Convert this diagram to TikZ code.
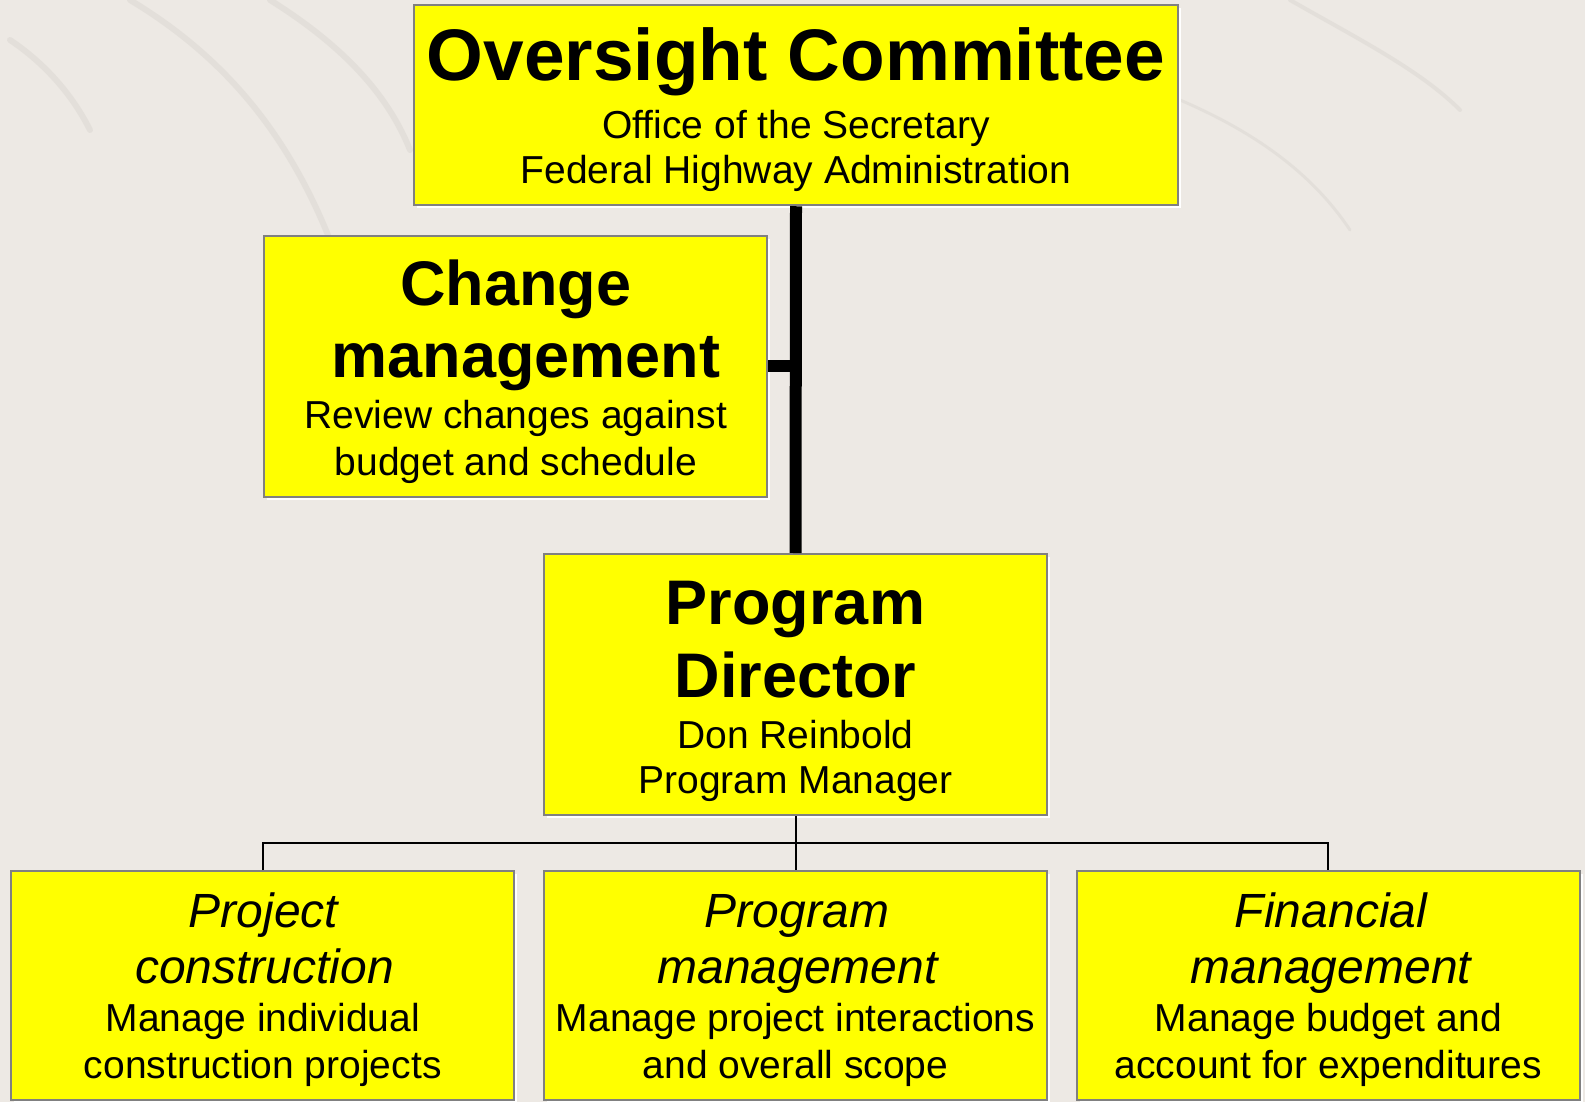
\documentclass[tikz,border=0pt]{standalone}
\usepackage{fontspec}
\setmainfont{Liberation Sans}
\usetikzlibrary{shadows}
\definecolor{bg}{HTML}{EDE9E4}
\definecolor{streak}{HTML}{D9D5CF}
\definecolor{boxgray}{HTML}{808080}
\definecolor{boxyellow}{HTML}{FFFF00}
\tikzset{
  box/.style={rectangle, draw=boxgray, line width=2pt, fill=boxyellow, inner sep=0pt,
    drop shadow={shadow xshift=3pt, shadow yshift=-3pt, fill=white, opacity=1}},
  bigtitle/.style={anchor=base, font=\fontsize{73}{80}\selectfont\bfseries},
  head/.style={anchor=base, font=\fontsize{63}{70}\selectfont\bfseries},
  ihead/.style={anchor=base, font=\fontsize{48}{54}\selectfont\itshape},
  sub/.style={anchor=base, font=\fontsize{39}{44}\selectfont},
  thickconn/.style={line width=12pt, black},
  thinconn/.style={line width=2pt, black},
  streakline/.style={draw=streak, line width=6pt, line cap=round, opacity=0.45}
}
\begin{document}
\begin{tikzpicture}[x=1pt, y=-1pt]
\fill[bg] (0,0) rectangle (1585,1102);
\useasboundingbox (0,0) rectangle (1585,1102);
% faint background streaks
\draw[streakline] (130,0) .. controls (230,60) and (290,140) .. (330,240);
\draw[streakline] (10,40) .. controls (40,60) and (70,90) .. (90,130);
\draw[streakline] (270,0) .. controls (350,50) and (390,100) .. (410,150);
\draw[streakline, line width=4pt] (1290,0) .. controls (1360,40) and (1420,70) .. (1460,110);
\draw[streakline, line width=3pt] (1180,100) .. controls (1250,130) and (1310,170) .. (1350,230);
% boxes
\node[box, minimum width=764pt, minimum height=200pt] (oc) at (796,105.25) {};
\node[box, minimum width=503pt, minimum height=261pt] (cm) at (515.75,366.25) {};
\node[box, minimum width=503pt, minimum height=261pt] (pd) at (795.5,684.5) {};
\node[box, minimum width=503pt, minimum height=229pt] (b1) at (262.75,985.5) {};
\node[box, minimum width=503pt, minimum height=229pt] (b2) at (795.5,985.5) {};
\node[box, minimum width=503pt, minimum height=229pt] (b3) at (1328.3,985.5) {};
% connectors
\draw[thickconn] (oc.south) -- (pd.north);
\draw[thickconn] (cm.east) -- (cm.east -| oc.south);
\coordinate (bus) at (795.5,843);
\draw[thinconn] (pd.south) -- (b2.north);
\draw[thinconn] (b1.north) -- (b1.north |- bus) -- (b3.north |- bus) -- (b3.north);
% texts
\node[bigtitle] (t1) at (796,81) {Oversight Committee};
\node[sub] (t2) at (796,138.5) {Office of the Secretary};
\node[sub] (t3) at (796,184) {Federal Highway Administration};
\node[head] (c1) at (515.75,305) {Change};
\node[head] (c2) at (526,377) {management};
\node[sub] (c3) at (515.75,428) {Review changes against};
\node[sub] (c4) at (515.75,475) {budget and schedule};
\node[head] (p1) at (795.5,624) {Program};
\node[head] (p2) at (795.5,697) {Director};
\node[sub] (p3) at (795.5,748) {Don Reinbold};
\node[sub] (p4) at (795.5,793) {Program Manager};
\node[ihead] (a1) at (263.5,927) {Project};
\node[ihead] (a2) at (264.5,983) {construction};
\node[sub] (a3) at (262.75,1031) {Manage individual};
\node[sub] (a4) at (262.75,1078) {construction projects};
\node[ihead] (m1) at (797,927) {Program};
\node[ihead] (m2) at (797.5,983) {management};
\node[sub] (m3) at (795.5,1031) {Manage project interactions};
\node[sub] (m4) at (795.5,1078) {and overall scope};
\node[ihead] (f1) at (1331,927) {Financial};
\node[ihead] (f2) at (1331,983) {management};
\node[sub] (f3) at (1328.3,1031) {Manage budget and};
\node[sub] (f4) at (1328.3,1078) {account for expenditures};
\end{tikzpicture}
\end{document}
